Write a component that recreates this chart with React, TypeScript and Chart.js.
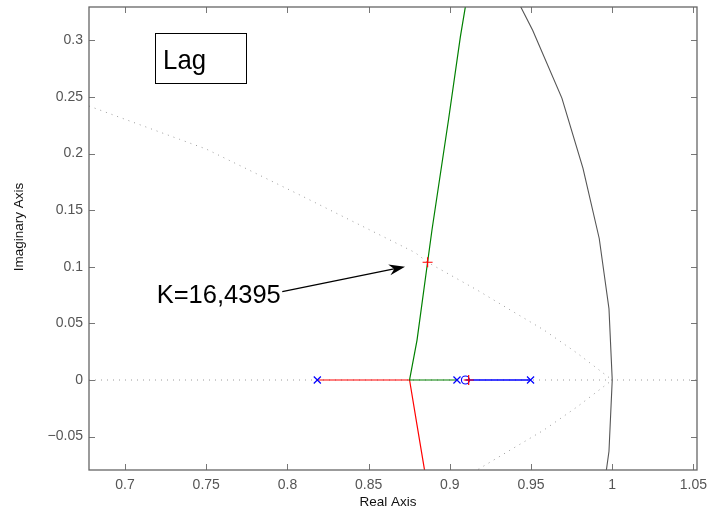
import React, { useEffect, useRef } from "react";
import { Chart, registerables } from "chart.js";

Chart.register(...registerables);

// axis ranges and tick labels
const xRange = [0.6778, 1.0522];
const yRange = [-0.0795, 0.3295];
const xTicks = [0.7, 0.75, 0.8, 0.85, 0.9, 0.95, 1, 1.05];
const yTicks = [-0.05, 0, 0.05, 0.1, 0.15, 0.2, 0.25, 0.3];

// root-locus branches [re, im]
const redBranch = [
  [0.8184, 0], [0.8752, 0], [0.8798, -0.0398], [0.8844, -0.0794], [0.885, -0.09],
];
const greenBranch = [
  [0.9044, 0], [0.8752, 0], [0.8798, 0.0353], [0.8863, 0.104], [0.889, 0.1325],
  [0.8993, 0.231], [0.9065, 0.3033], [0.9096, 0.33], [0.911, 0.345],
];
const blueBranch = [[0.9497, 0], [0.9096, 0]];

// open-loop poles / zeros, closed-loop poles at K=16,4395
const polesRe = [0.8184, 0.9044, 0.9497];
const zerosRe = [0.9096];
const closedLoopPoles = [[0.8863, 0.104], [0.9116, 0]];

// z-plane grid: constant damping curve (upper half) and unit circle
const dampingUpper = [
  [0.6778, 0.242], [0.7336, 0.2126], [0.75, 0.204], [0.8077, 0.1634], [0.8787, 0.1125],
  [0.8863, 0.104], [0.9168, 0.0795], [0.9373, 0.0618], [0.9579, 0.0442],
  [0.9785, 0.0236], [1.0, 0],
];
const unitCircle = [
  [0.93, 0.368], [0.951, 0.309], [0.969, 0.249], [0.982, 0.187], [0.992, 0.125],
  [0.998, 0.063], [1.0, 0], [0.998, -0.063], [0.992, -0.125],
];

const FONT = "'Liberation Sans', Arial, Helvetica, sans-serif";

const pts = (a: number[][]) => a.map(([x, y]) => ({ x, y }));

const framePlugin = {
  id: "frame",
  afterDraw(chart: any) {
    const { ctx, chartArea, scales } = chart;
    const { left, right, top, bottom } = chartArea;
    const xs = scales.x;
    const ys = scales.y;
    ctx.save();
    // ticks (inward, all four sides)
    ctx.strokeStyle = "#777";
    ctx.lineWidth = 1;
    ctx.beginPath();
    const tl = 6;
    xs.ticks.forEach((t: any) => {
      const px = Math.round(xs.getPixelForValue(t.value)) + 0.5;
      ctx.moveTo(px, bottom); ctx.lineTo(px, bottom - tl);
      ctx.moveTo(px, top); ctx.lineTo(px, top + tl);
    });
    ys.ticks.forEach((t: any) => {
      const py = Math.round(ys.getPixelForValue(t.value)) + 0.5;
      ctx.moveTo(left, py); ctx.lineTo(left + tl, py);
      ctx.moveTo(right, py); ctx.lineTo(right - tl, py);
    });
    ctx.stroke();
    // box
    ctx.strokeStyle = "#666";
    ctx.lineWidth = 1.3;
    ctx.strokeRect(left, top, right - left, bottom - top);

    // axis titles
    ctx.fillStyle = "#111";
    ctx.font = `13.5px ${FONT}`;
    ctx.textAlign = "center";
    ctx.textBaseline = "middle";
    ctx.fillText("Real Axis", 388, 502);
    ctx.save();
    ctx.translate(19, 227);
    ctx.rotate(-Math.PI / 2);
    ctx.fillText("Imaginary Axis", 0, 0);
    ctx.restore();

    // "Lag" text box
    const bx0 = xs.getPixelForValue(0.7182);
    const bx1 = xs.getPixelForValue(0.7742);
    const by0 = ys.getPixelForValue(0.3068);
    const by1 = ys.getPixelForValue(0.2627);
    ctx.fillStyle = "#fff";
    ctx.fillRect(bx0, by0, bx1 - bx0, by1 - by0);
    ctx.strokeStyle = "#000";
    ctx.lineWidth = 1;
    ctx.strokeRect(Math.round(bx0) + 0.5, Math.round(by0) + 0.5, Math.round(bx1 - bx0), Math.round(by1 - by0));
    ctx.fillStyle = "#000";
    ctx.textAlign = "left";
    ctx.textBaseline = "alphabetic";
    ctx.save();
    ctx.translate(bx0 + 8.5, ys.getPixelForValue(0.2744));
    ctx.scale(0.92, 1);
    ctx.font = `28px ${FONT}`;
    ctx.fillText("Lag", 0, 0);
    ctx.restore();

    // K annotation with arrow
    ctx.font = `25.5px ${FONT}`;
    ctx.fillText("K=16,4395", xs.getPixelForValue(0.7195), ys.getPixelForValue(0.0678));
    const ax0 = xs.getPixelForValue(0.7968);
    const ay0 = ys.getPixelForValue(0.078);
    const ax1 = xs.getPixelForValue(0.8724);
    const ay1 = ys.getPixelForValue(0.1001);
    ctx.strokeStyle = "#000";
    ctx.lineWidth = 1.2;
    const ang = Math.atan2(ay1 - ay0, ax1 - ax0);
    const hl = 16;
    const hw = 5.5;
    const bxp = ax1 - hl * Math.cos(ang);
    const byp = ay1 - hl * Math.sin(ang);
    ctx.beginPath();
    ctx.moveTo(ax0, ay0);
    ctx.lineTo(ax1 - 10 * Math.cos(ang), ay1 - 10 * Math.sin(ang));
    ctx.stroke();
    ctx.beginPath();
    ctx.moveTo(ax1, ay1);
    ctx.lineTo(bxp + hw * Math.sin(ang), byp - hw * Math.cos(ang));
    ctx.lineTo(ax1 - 11 * Math.cos(ang), ay1 - 11 * Math.sin(ang));
    ctx.lineTo(bxp - hw * Math.sin(ang), byp + hw * Math.cos(ang));
    ctx.closePath();
    ctx.fillStyle = "#000";
    ctx.fill();
    ctx.restore();
  },
};

const fmt = (v: number) => (v < 0 ? "\u2212" + String(Math.abs(v)) : String(v));

export default function App() {
  const ref = useRef<HTMLCanvasElement>(null);
  useEffect(() => {
    const lineDs = (data: number[][], color: string, width = 1.1) => ({
      data: pts(data),
      showLine: true,
      borderColor: color,
      borderWidth: width,
      pointRadius: 0,
      fill: false,
      tension: 0,
    });
    const dotted = (data: number[][]) => ({
      ...lineDs(data, "#9a9a9a", 1),
      borderDash: [1, 5],
    });
    const chart = new Chart(ref.current!, {
      type: "scatter",
      data: {
        datasets: [
          {
            data: pts(closedLoopPoles),
            pointStyle: "cross",
            pointRadius: 5,
            borderColor: "#ff0000",
            borderWidth: 1.2,
            showLine: false,
          },
          {
            data: polesRe.map((x) => ({ x, y: 0 })),
            pointStyle: "crossRot",
            pointRadius: 5,
            borderColor: "#0000ff",
            borderWidth: 1.2,
            showLine: false,
          },
          {
            data: zerosRe.map((x) => ({ x, y: 0 })),
            pointStyle: "circle",
            pointRadius: 4,
            borderColor: "#0000ff",
            backgroundColor: "rgba(0,0,0,0)",
            borderWidth: 1.2,
            showLine: false,
          },
          lineDs(blueBranch, "#0000ff", 1.4),
          lineDs(greenBranch, "#008000", 1.2),
          lineDs(redBranch, "#ff0000", 1.2),
          lineDs(unitCircle, "#555555", 1.1),
          dotted(dampingUpper),
          dotted(dampingUpper.map(([x, y]) => [x, -y])),
          dotted([[xRange[0], 0], [xRange[1], 0]]),
        ] as any,
      },
      options: {
        animation: false,
        responsive: false,
        devicePixelRatio: 1,
        layout: { padding: { left: 0, right: 18, top: 7, bottom: 0 } },
        plugins: { legend: { display: false }, tooltip: { enabled: false }, title: { display: false } },
        scales: {
          x: {
            type: "linear",
            min: xRange[0],
            max: xRange[1],
            afterBuildTicks: (s: any) => {
              s.ticks = xTicks.map((value) => ({ value }));
            },
            afterFit: (s: any) => {
              s.height = 41;
              s.paddingLeft = 0;
              s.paddingRight = 0;
              s.paddingTop = 0;
              s.paddingBottom = 0;
            },
            grid: { display: false, drawTicks: false },
            border: { display: false },
            ticks: {
              autoSkip: false,
              maxRotation: 0,
              padding: 7,
              color: "#555",
              font: { family: FONT, size: 14 },
              callback: (v: any) => fmt(Number(v)),
            },
          },
          y: {
            type: "linear",
            min: yRange[0],
            max: yRange[1],
            afterBuildTicks: (s: any) => {
              s.ticks = yTicks.map((value) => ({ value }));
            },
            afterFit: (s: any) => {
              s.width = 89;
              s.paddingLeft = 0;
              s.paddingRight = 0;
              s.paddingTop = 0;
              s.paddingBottom = 0;
            },
            grid: { display: false, drawTicks: false },
            border: { display: false },
            ticks: {
              autoSkip: false,
              padding: 6,
              color: "#555",
              font: { family: FONT, size: 14 },
              callback: (v: any) => fmt(Number(v)),
            },
          },
        },
      },
      plugins: [framePlugin],
    });
    return () => chart.destroy();
  }, []);
  return (
    <div style={{ position: "fixed", left: 0, top: 0, width: 715, height: 511, background: "#fff" }}>
      <canvas ref={ref} width={715} height={511} style={{ display: "block", width: 715, height: 511 }} />
    </div>
  );
}
